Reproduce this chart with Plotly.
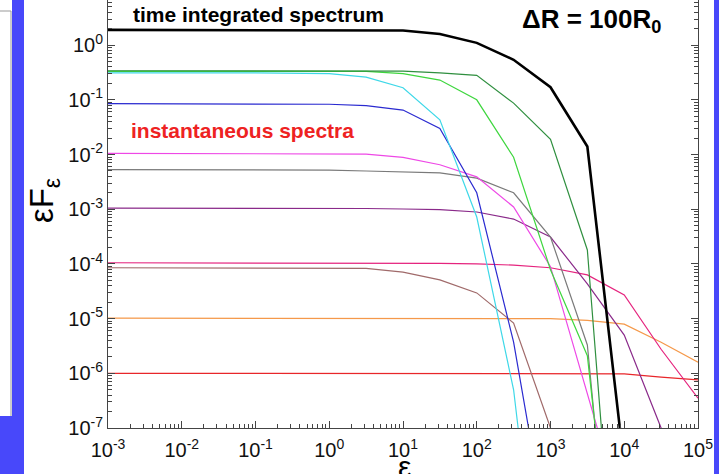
import plotly.graph_objects as go

# photon energy grid (half-decade nodes)
eps = [1e-3, 1e-2, 1e-1, 1.0, 3.16, 10.0, 31.6, 100.0, 316.0, 1000.0, 3160.0, 1e4, 31600.0, 1e5]

# time integrated spectrum
integrated = [1.9, 1.9, 1.9, 1.9, 1.88, 1.85, 1.6, 1.1, 0.54, 0.17, 0.014, 2e-8]

# instantaneous spectra
dark_green = [0.34, 0.34, 0.34, 0.34, 0.34, 0.335, 0.31, 0.28, 0.087, 0.019, 1.8e-4, 5e-13]
light_green = [0.33, 0.33, 0.33, 0.33, 0.33, 0.30, 0.23, 0.10, 0.0089, 7.8e-5, 2.1e-6, 1.6e-12]
cyan = [0.31, 0.31, 0.31, 0.30, 0.26, 0.166, 0.043, 7.2e-4, 5e-7, 1e-12]
blue = [0.085, 0.085, 0.085, 0.083, 0.078, 0.065, 0.030, 0.0020, 3.7e-6, 5e-10]
magenta = [0.0105, 0.0105, 0.0105, 0.0104, 0.0102, 0.0089, 0.0065, 0.0039, 0.0011, 8.9e-5, 4.4e-7, 2e-9]
gray = [0.0053, 0.0053, 0.0053, 0.0052, 0.0050, 0.0048, 0.0046, 0.0037, 0.0020, 3.1e-4, 3.3e-6, 3e-13]
purple = [0.00105, 0.00105, 0.00105, 0.00104, 0.00103, 0.00101, 0.00098, 8.9e-4, 6.6e-4, 3.1e-4, 4.3e-5, 5e-6, 1e-7, 3e-10]
pink = [1.05e-4, 1.05e-4, 1.05e-4, 1.05e-4, 1.05e-4, 1.04e-4, 1.02e-4, 1.0e-4, 9.5e-5, 8.5e-5, 6.3e-5, 2.7e-5, 2.75e-6, 3.5e-7]
brown = [8.5e-5, 8.5e-5, 8.5e-5, 8.4e-5, 8.3e-5, 7.1e-5, 5.1e-5, 2.95e-5, 8.3e-6, 1e-7, 1e-10]
orange = [1.02e-5, 1.02e-5, 1.02e-5, 1.02e-5, 1.02e-5, 1.02e-5, 1.02e-5, 1.02e-5, 1.01e-5, 1.0e-5, 9.3e-6, 7.9e-6, 3.7e-6, 1.6e-6]
red = [1.0e-6, 1.0e-6, 1.0e-6, 1.0e-6, 1.0e-6, 1.0e-6, 1.0e-6, 1.0e-6, 1.0e-6, 1.0e-6, 1.0e-6, 9.8e-7, 8.5e-7, 7.6e-7]

series = [
    ("red", red, "#e8262a", 1.2),
    ("orange", orange, "#f5994a", 1.2),
    ("brown", brown, "#a06a6a", 1.2),
    ("pink", pink, "#e5247e", 1.2),
    ("purple", purple, "#8a2a8a", 1.2),
    ("gray", gray, "#7a7a7a", 1.2),
    ("magenta", magenta, "#ee48e6", 1.2),
    ("blue", blue, "#2a2ad0", 1.2),
    ("cyan", cyan, "#3ed8e8", 1.2),
    ("light green", light_green, "#3ed63e", 1.2),
    ("dark green", dark_green, "#2f8f3f", 1.2),
    ("integrated", integrated, "#000000", 2.6),
]

x_tick_exp = [-3, -2, -1, 0, 1, 2, 3, 4, 5]
y_tick_exp = [-7, -6, -5, -4, -3, -2, -1, 0]

fig = go.Figure()
for name, ys, col, w in series:
    fig.add_trace(go.Scatter(x=eps[:len(ys)], y=ys, mode="lines", name=name,
                             line=dict(color=col, width=w), showlegend=False))

def ticktxt(e):
    return "10<sup>%d</sup>" % e

def minors(lo, hi):
    out = []
    for k in range(lo, hi):
        for m in range(2, 10):
            out.append(m * 10.0 ** k)
    return out

axis_col = "#444444"
tick_font = dict(family="Liberation Sans, Arial, sans-serif", size=20, color="#111111")

fig.update_xaxes(type="log", range=[-3, 5],
                 tickvals=[10.0 ** e for e in x_tick_exp], ticktext=[ticktxt(e) for e in x_tick_exp],
                 ticks="inside", ticklen=7, tickcolor=axis_col, showline=True, linecolor=axis_col,
                 linewidth=1, mirror=False, showgrid=False, zeroline=False, tickfont=tick_font,
                 ticklabelstandoff=4,
                 minor=dict(tickvals=minors(-3, 5), ticks="inside", ticklen=4, tickcolor=axis_col,
                            showgrid=False))
fig.update_yaxes(type="log", range=[-7, 0.825],
                 tickvals=[10.0 ** e for e in y_tick_exp], ticktext=[ticktxt(e) for e in y_tick_exp],
                 ticks="inside", ticklen=7, tickcolor=axis_col, showline=True, linecolor=axis_col,
                 linewidth=1, mirror="ticks", showgrid=False, zeroline=False, tickfont=tick_font,
                 minor=dict(tickvals=minors(-7, 1), ticks="inside", ticklen=4, tickcolor=axis_col,
                            showgrid=False))

# page decoration (slide background strips)
L, R, T, B = 108, 698, 0, 428
def px(xp):
    return (xp - L) / (R - L)
def py(yp):
    return (B - yp) / (B - T)

blue_bg = "#4848fa"
shapes = [
    dict(type="rect", xref="paper", yref="paper", x0=px(12), x1=px(24), y0=py(474), y1=py(0),
         fillcolor=blue_bg, line=dict(width=0), layer="below"),
    dict(type="rect", xref="paper", yref="paper", x0=px(0), x1=px(12), y0=py(474), y1=py(416),
         fillcolor=blue_bg, line=dict(width=0), layer="below"),
    dict(type="rect", xref="paper", yref="paper", x0=px(714), x1=px(719), y0=py(474), y1=py(0),
         fillcolor=blue_bg, line=dict(width=0), layer="below"),
    dict(type="line", xref="paper", yref="paper", x0=px(11), x1=px(11), y0=py(416), y1=py(11),
         line=dict(color="#999999", width=1), layer="below"),
    dict(type="line", xref="paper", yref="paper", x0=px(0), x1=px(11), y0=py(11), y1=py(11),
         line=dict(color="#999999", width=1), layer="below"),
]

annotations = [
    dict(text="<b>time integrated spectrum</b>", xref="paper", yref="paper", x=px(131), y=py(15),
         xanchor="left", yanchor="middle", showarrow=False,
         font=dict(family="Liberation Sans, Arial, sans-serif", size=21, color="#000000")),
    dict(text="<b>instantaneous spectra</b>", xref="paper", yref="paper", x=px(129), y=py(130),
         xanchor="left", yanchor="middle", showarrow=False,
         font=dict(family="Liberation Sans, Arial, sans-serif", size=21, color="#ee2222")),
    dict(text="<b>\u0394R = 100R<sub>0</sub></b>", xref="paper", yref="paper", x=px(520), y=py(20),
         xanchor="left", yanchor="middle", showarrow=False,
         font=dict(family="Liberation Sans, Arial, sans-serif", size=26, color="#000000")),
    dict(text="\u03b5F<sub>\u03b5</sub>", xref="paper", yref="paper", x=px(44), y=py(201),
         xanchor="center", yanchor="middle", textangle=-90, showarrow=False,
         font=dict(family="Liberation Sans, Arial, sans-serif", size=33, color="#000000")),
    dict(text="\u03b5", xref="paper", yref="paper", x=px(405), y=py(448),
         xanchor="center", yanchor="top", showarrow=False,
         font=dict(family="Liberation Sans, Arial, sans-serif", size=30, color="#000000")),
]

fig.update_layout(width=719, height=474, margin=dict(l=L, r=719 - R, t=T, b=474 - B),
                  paper_bgcolor="#ffffff", plot_bgcolor="#ffffff",
                  shapes=shapes, annotations=annotations, showlegend=False)

fig.write_html("out.html")
